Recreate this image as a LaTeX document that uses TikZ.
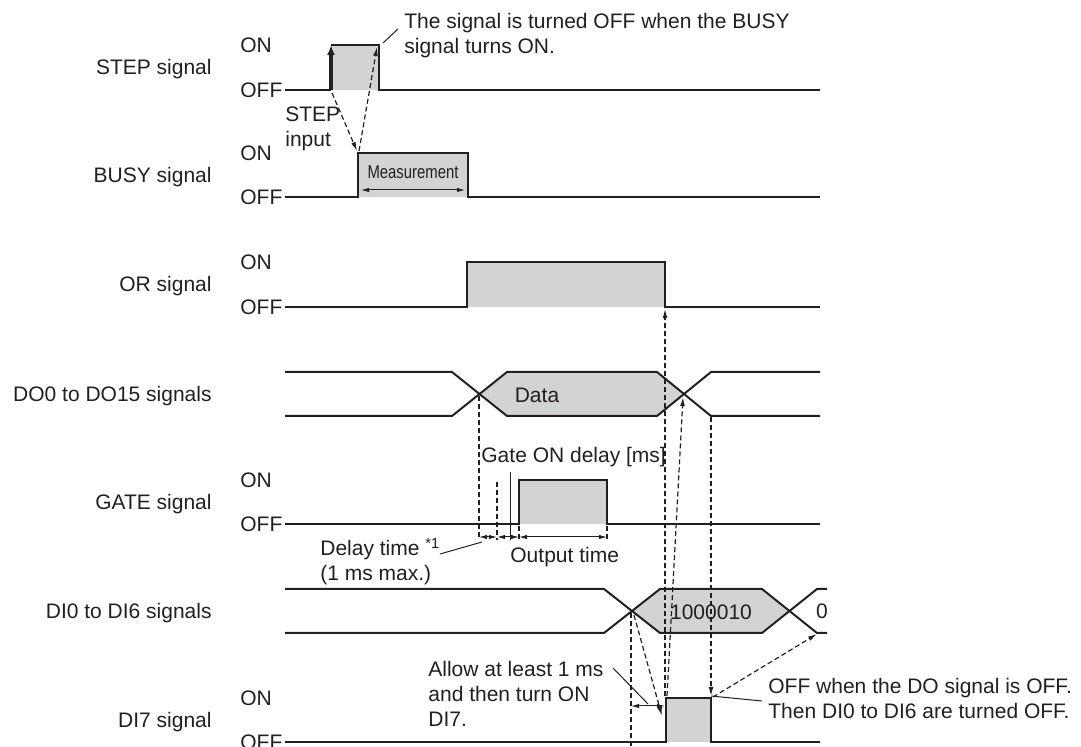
\documentclass[tikz,border=0pt]{standalone}
\usepackage{fontspec}
\setmainfont{Liberation Sans}
\usepackage{graphicx}
\usetikzlibrary{arrows.meta}
\definecolor{inkgrey}{HTML}{231F20}
\definecolor{pulsegrey}{HTML}{D1D3D4}

\begin{document}
\begin{tikzpicture}[x=0.5pt, y=-0.5pt,
    every node/.style={font=\fontsize{10.5}{12.5}\selectfont, text=inkgrey, inner sep=0pt},
    signame/.style={anchor=base east},
    level/.style={anchor=base west},
    note/.style={anchor=north west, align=left},
    sig/.style={draw=inkgrey, line width=1pt},
    pulse/.style={fill=pulsegrey},
    hint/.style={draw=inkgrey, line width=0.6pt, dash pattern=on 2.5pt off 1.5pt},
    hintarrow/.style={hint, -{Latex[length=4.5pt,width=2.4pt]}},
    dim/.style={draw=inkgrey, line width=0.5pt, {Latex[length=4pt,width=2.2pt]}-{Latex[length=4pt,width=2.2pt]}},
    leader/.style={draw=inkgrey, line width=0.5pt}]
\useasboundingbox (0,0) rectangle (1081,747);

% signal names:
\node[signame] (stepname) at (212,74.5) {STEP signal};
\node[signame] (busyname) at (212,182.5) {BUSY signal};
\node[signame] (orname) at (212,291.5) {OR signal};
\node[signame] (doname) at (212,401.5) {DO0 to DO15 signals};
\node[signame] (gatename) at (212,509.5) {GATE signal};
\node[signame] (diname) at (212,618.5) {DI0 to DI6 signals};
\node[signame] (disevenname) at (212,727.5) {DI7 signal};

% ON / OFF:
\node[level] (stepon) at (240,52.5) {ON};
\node[level] (stepoff) at (240,97.5) {OFF};
\node[level] (busyon) at (240,160.5) {ON};
\node[level] (busyoff) at (240,204.5) {OFF};
\node[level] (oron) at (240,269.5) {ON};
\node[level] (oroff) at (240,314.5) {OFF};
\node[level] (gateon) at (240,487.5) {ON};
\node[level] (gateoff) at (240,531.5) {OFF};
\node[level] (diseven) at (240,705.5) {ON};
\node[level] (disevenoff) at (240,749.5) {OFF};

% STEP signal:
\fill[pulse] (331,90) rectangle (379,45);
\draw[sig] (285,90) -- (331,90); % vor dem Puls
\draw[sig] (331,45) -- (379,45) -- (379,90) -- (820,90);
\draw[draw=inkgrey, line width=1.6pt, -{Latex[length=5pt,width=4pt]}] (331,90) -- (331,45); % STEP input
\coordinate (steprise) at (332,93);
\coordinate (stepfall) at (377,47);

% BUSY signal:
\fill[pulse] (358,197) rectangle (468,153);
\draw[sig] (285,197) -- (358,197) -- (358,153) -- (468,153) -- (468,197) -- (820,197);
\coordinate (busyrise) at (357,151);
\node (measure) at (413,172) {\fontsize{9.3}{11}\selectfont\scalebox{0.8}[1]{Measurement}};
\coordinate (measleft) at (361,190);
\coordinate (measright) at (465,190);
\draw[dim] (measleft) -- (measright);

% OR signal:
\fill[pulse] (467,307) rectangle (665,262);
\draw[sig] (285,307) -- (467,307) -- (467,262) -- (665,262) -- (665,307) -- (820,307);
\coordinate (orfall) at (665,309);

% DO0 to DO15:
\fill[pulse] (479,394) -- (507,372) -- (657,372) -- (683,394) -- (657,416) -- (507,416) -- cycle;
\draw[sig] (285,372) -- (452,372) -- (507,416) -- (657,416) -- (711,372) -- (820,372);
\draw[sig] (285,416) -- (452,416) -- (507,372) -- (657,372) -- (711,416) -- (820,416);
\node (data) at (537,395) {Data};
\coordinate (dostart) at (479,396);
\coordinate (docross) at (683,397);
\coordinate (docorner) at (711,417);

% GATE signal:
\fill[pulse] (519,524) rectangle (607,480);
\draw[sig] (285,524) -- (519,524) -- (519,480) -- (607,480) -- (607,524) -- (820,524);
\coordinate (gatebase) at (479,540);
\coordinate (delaytop) at (497,482);
\coordinate (delaybase) at (497,540);
\coordinate (ontop) at (510,472);
\coordinate (onbase) at (510,540);
\coordinate (gaterise) at (519,526);
\coordinate (gaterisebase) at (519,540);
\coordinate (gatefall) at (607,526);
\coordinate (gatefallbase) at (607,540);
\draw[hint] (dostart) -- (gatebase);
\draw[hint] (delaytop) -- (delaybase);
\draw[leader] (ontop) -- (onbase);
\draw[hint] (gaterise) -- (gaterisebase);
\draw[hint] (gatefall) -- (gatefallbase);
\draw[dim] (479,537) -- (497,537); % Delay time
\draw[dim] (497,537) -- (519,537); % Gate ON delay
\draw[dim] (519,537) -- (607,537); % Output time
\node[anchor=base west] (gatedelay) at (481,462.5) {Gate ON delay [ms]};
\node[anchor=base west] (outtime) at (510,562.5) {Output time};
\node[note] (delaytime) at (320,537.5) {Delay time \textsuperscript{*1}\\(1 ms max.)};
\coordinate (delaytip) at (482,542);
\draw[leader] (440,554) -- (delaytip);

% DI0 to DI6:
\fill[pulse] (632,611) -- (660,589) -- (762,589) -- (789,611) -- (762,633) -- (660,633) -- cycle;
\draw[sig] (285,589) -- (604,589) -- (660,633) -- (762,633) -- (817,589) -- (827,589);
\draw[sig] (285,633) -- (604,633) -- (660,589) -- (762,589) -- (817,633) -- (827,633);
\node (dicode) at (711,612) {1000010};
\node (dizero) at (822,611) {0};
\coordinate (distart) at (634,615);
\coordinate (dicross) at (631,613);
\coordinate (dibottom) at (631,747);
\coordinate (dicorner) at (817,634);

% DI7 signal:
\fill[pulse] (666,742) rectangle (711,698);
\draw[sig] (285,742) -- (666,742) -- (666,698) -- (711,698) -- (711,742) -- (820,742);
\coordinate (disevenrise) at (665,696);
\coordinate (disevenriseb) at (667,696);
\coordinate (disevenside) at (662,716);
\coordinate (disevenfall) at (711,696);
\coordinate (disevenfallb) at (713,697);

% dashed arrows:
\draw[hintarrow] (steprise) -- (busyrise);
\draw[hintarrow] (359,151) -- (stepfall);
\draw[hintarrow] (disevenrise) -- (orfall);
\draw[hintarrow] (disevenriseb) -- (docross);
\draw[hintarrow] (docorner) -- (disevenfall);
\draw[hintarrow] (disevenfallb) -- (dicorner);
\draw[hintarrow] (distart) -- (disevenside);
\draw[hint, line width=1.4pt] (dicross) -- (dibottom); % dicker Strich
\draw[dim] (631,706) -- (665,706); % mind. 1 ms

% notes:
\node[note] (busynote) at (404,13) {The signal is turned OFF when the BUSY\\signal turns ON.};
\draw[leader] (383,43) -- (398,29);
\node[note] (stepinput) at (285,106) {STEP\\input};
\node[note] (allownote) at (428,660.5) {Allow at least 1 ms\\and then turn ON\\DI7.};
\draw[leader] (613,668) -- (648,704);
\node[note] (offnote) at (768,677.5) {OFF when the DO signal is OFF.\\Then DI0 to DI6 are turned OFF.};
\draw[leader] (disevenfall) -- (762,701);
\end{tikzpicture}
\end{document}
